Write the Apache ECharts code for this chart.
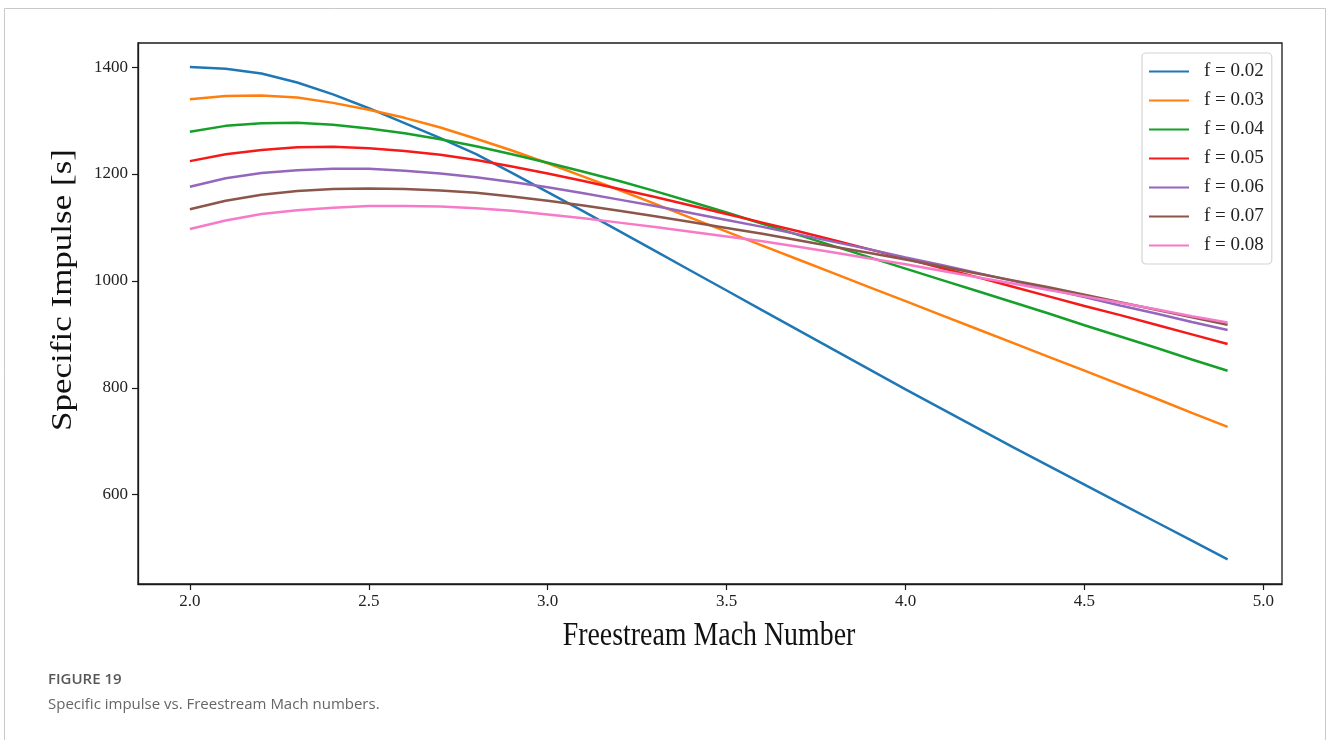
<!DOCTYPE html>
<html>
<head>
<meta charset="utf-8">
<title>Specific impulse vs. Freestream Mach number</title>
<script src="https://cdn.jsdelivr.net/npm/echarts@6/dist/echarts.min.js"></script>
<style>
  html, body { margin: 0; padding: 0; background: #ffffff; }
  #chart { width: 1328px; height: 740px; }
</style>
</head>
<body>
<div id="chart"></div>
<script>
// Freestream Mach number samples
const mach = [2.0, 2.1, 2.2, 2.3, 2.4, 2.5, 2.6, 2.7, 2.8, 2.9,
              3.0, 3.1, 3.2, 3.3, 3.4, 3.5, 3.6, 3.7, 3.8, 3.9,
              4.0, 4.1, 4.2, 4.3, 4.4, 4.5, 4.6, 4.7, 4.8, 4.9];

// Specific impulse [s] for each fuel-air ratio f
const isp002 = [1400, 1397, 1388, 1371, 1349, 1323, 1295, 1267, 1237, 1202,
                1166, 1130, 1093, 1056, 1019, 982, 945, 908, 871, 834,
                797, 761, 725, 689, 654, 619, 584, 549, 514, 479];
const isp003 = [1340, 1346, 1347, 1343, 1333, 1320, 1305, 1287, 1266, 1244,
                1220, 1195, 1170, 1144, 1118, 1092, 1066, 1040, 1014, 988,
                962, 936, 910, 884, 858, 832, 806, 780, 753, 727];
const isp004 = [1279, 1290, 1295, 1296, 1292, 1285, 1276, 1265, 1252, 1237,
                1221, 1204, 1187, 1168, 1148, 1128, 1107, 1086, 1065, 1044,
                1023, 1002, 981, 960, 939, 917, 896, 875, 853, 832];
const isp005 = [1224, 1237, 1245, 1250, 1251, 1248, 1243, 1236, 1226, 1214,
                1201, 1187, 1172, 1157, 1141, 1125, 1109, 1093, 1076, 1059,
                1042, 1024, 1007, 989, 971, 953, 936, 918, 900, 882];
const isp006 = [1176, 1192, 1202, 1207, 1210, 1210, 1206, 1201, 1194, 1185,
                1175, 1164, 1152, 1140, 1127, 1114, 1101, 1087, 1073, 1059,
                1044, 1030, 1015, 1000, 985, 970, 954, 939, 923, 908];
const isp007 = [1134, 1150, 1161, 1168, 1172, 1173, 1172, 1169, 1165, 1158,
                1150, 1141, 1131, 1121, 1110, 1099, 1088, 1076, 1064, 1052,
                1040, 1027, 1014, 1001, 988, 974, 960, 946, 932, 918];
const isp008 = [1097, 1113, 1125, 1132, 1137, 1140, 1140, 1139, 1136, 1131,
                1124, 1117, 1109, 1101, 1092, 1083, 1074, 1064, 1053, 1042,
                1031, 1019, 1007, 995, 983, 971, 959, 947, 934, 922];

const seriesNames = ['f = 0.02', 'f = 0.03', 'f = 0.04', 'f = 0.05', 'f = 0.06', 'f = 0.07', 'f = 0.08'];
const seriesValues = [isp002, isp003, isp004, isp005, isp006, isp007, isp008];
const seriesColors = ['#1f77b4', '#ff7f0e', '#16a02a', '#f51a1a', '#9467bd', '#8c564b', '#f77ac8'];

// Tick positions
const xTicks = [2.0, 2.5, 3.0, 3.5, 4.0, 4.5, 5.0];
const yTicks = [600, 800, 1000, 1200, 1400];

const serif = '"Liberation Serif", "Times New Roman", serif';

const chart = echarts.init(document.getElementById('chart'), null, { renderer: 'canvas' });

const series = seriesNames.map((name, i) => ({
  name: name,
  type: 'line',
  data: mach.map((m, k) => [m, seriesValues[i][k]]),
  symbol: 'none',
  smooth: false,
  lineStyle: { width: 2.5, color: seriesColors[i] },
  itemStyle: { color: seriesColors[i] },
  emphasis: { disabled: true },
  animation: false
}));

chart.setOption({
  backgroundColor: '#ffffff',
  animation: false,
  grid: {
    left: 138, right: 46, top: 43, bottom: 156,
    show: true, borderColor: '#1a1a1a', borderWidth: 1.3, backgroundColor: 'transparent'
  },
  xAxis: {
    type: 'value',
    min: 1.855, max: 5.052,
    axisLine: { show: true, lineStyle: { color: '#1a1a1a', width: 1.3 } },
    axisTick: { show: true, customValues: xTicks, length: 6, lineStyle: { color: '#1a1a1a', width: 1.2 } },
    axisLabel: {
      customValues: xTicks,
      formatter: v => v.toFixed(1),
      fontFamily: serif, fontSize: 17, color: '#222', margin: 9
    },
    splitLine: { show: false }
  },
  yAxis: {
    type: 'value',
    min: 433, max: 1445,
    axisLine: { show: true, lineStyle: { color: '#1a1a1a', width: 1.3 } },
    axisTick: { show: true, customValues: yTicks, length: 6, lineStyle: { color: '#1a1a1a', width: 1.2 } },
    axisLabel: {
      customValues: yTicks,
      formatter: v => String(Math.round(v)),
      fontFamily: serif, fontSize: 17, color: '#222', margin: 10
    },
    splitLine: { show: false }
  },
  legend: {
    data: seriesNames,
    orient: 'vertical',
    left: 1142, top: 53,
    padding: [9, 8, 9, 6],
    itemWidth: 40, itemHeight: 16, itemGap: 10,
    itemStyle: { opacity: 0, borderWidth: 0 },
    backgroundColor: '#ffffff',
    borderColor: '#d4d4d4', borderWidth: 1.2, borderRadius: 4,
    textStyle: { fontFamily: serif, fontSize: 19, lineHeight: 19, color: '#222', padding: [0, 0, 0, 10] },
    selectedMode: false
  },
  graphic: [
    {
      type: 'rect', silent: true, z: -10,
      shape: { x: 4.5, y: 8.5, width: 1321, height: 780 },
      style: { fill: 'none', stroke: '#c9c9c9', lineWidth: 1 }
    },
    {
      type: 'text', silent: true,
      x: 709, y: 636, scaleX: 0.82,
      style: {
        text: 'Freestream Mach Number', fontFamily: serif, fontSize: 34,
        fill: '#111', align: 'center', verticalAlign: 'middle'
      }
    },
    {
      type: 'text', silent: true,
      x: 63, y: 290, rotation: Math.PI / 2, scaleY: 0.82,
      style: {
        text: 'Specific Impulse [s]', fontFamily: serif, fontSize: 35,
        fill: '#111', align: 'center', verticalAlign: 'middle'
      }
    },
    {
      type: 'text', silent: true,
      x: 48, y: 680,
      style: {
        text: 'FIGURE 19', fontFamily: '"Open Sans", "Noto Sans", sans-serif',
        fontWeight: 600, fontSize: 15, fill: '#585858', verticalAlign: 'middle'
      }
    },
    {
      type: 'text', silent: true,
      x: 48, y: 705,
      style: {
        text: 'Specific impulse vs. Freestream Mach numbers.',
        fontFamily: '"Open Sans", "Noto Sans", sans-serif',
        fontSize: 15, fill: '#666666', verticalAlign: 'middle'
      }
    }
  ],
  series: series
});
</script>
</body>
</html>
